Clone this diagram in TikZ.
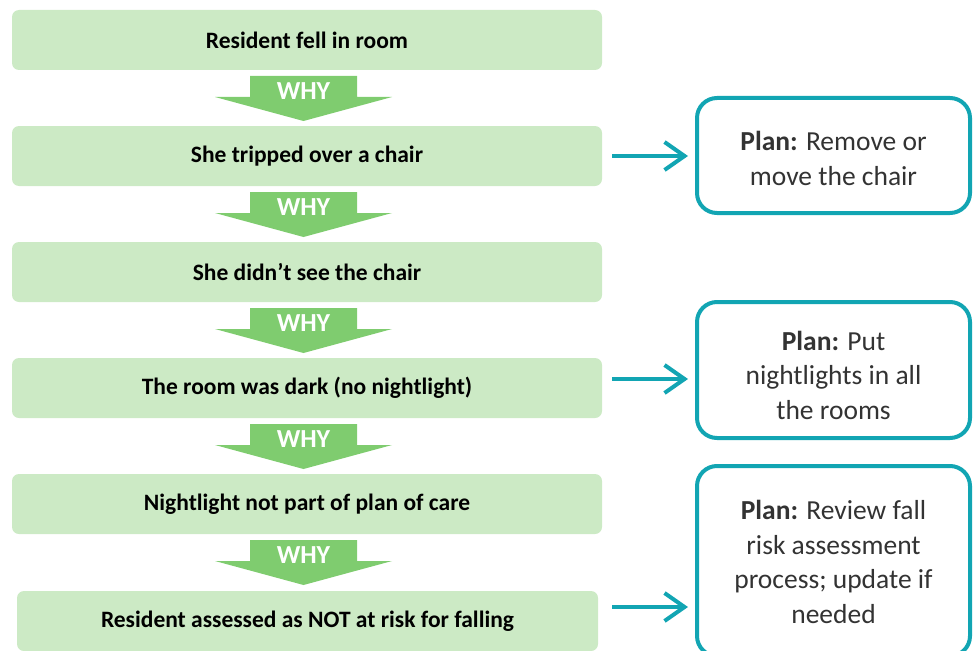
\documentclass[tikz,border=0pt]{standalone}
\usepackage{fontspec}
\setmainfont{Carlito}
\usetikzlibrary{arrows.meta}
\definecolor{boxgreen}{HTML}{CCEAC5}
\definecolor{whygreen}{HTML}{7FCC6F}
\definecolor{planteal}{HTML}{12A5B3}
\definecolor{plantext}{HTML}{333333}
\begin{document}
\begin{tikzpicture}[x=1pt,y=-1pt,
  causebox/.style={fill=boxgreen, rounded corners=7pt, minimum width=590pt, minimum height=60pt,
    font=\fontsize{23.5}{28}\selectfont\bfseries, inner sep=0pt},
  planbox/.style={draw=planteal, line width=4pt, rounded corners=20pt, fill=white,
    minimum width=273pt, minimum height=#1},
  plantextstyle/.style={align=center, font=\fontsize{27.5}{34.5}\selectfont, text=plantext, inner sep=0pt},
  whyarrow/.style={fill=whygreen},
  whytext/.style={text=white, font=\fontsize{26}{30}\selectfont\bfseries, inner sep=0pt},
  planarrow/.style={draw=planteal, line width=4pt, -{Straight Barb[length=20pt,width=28pt]}}]
\useasboundingbox (0,0) rectangle (976,650);
\clip (0,0) rectangle (976,650);

% cause boxes
\node[causebox] (c1) at (307,40) {Resident fell in room};
\node[causebox] (c2) at (307,156) {She tripped over a chair};
\node[causebox] (c3) at (307,272) {She didn’t see the chair};
\node[causebox] (c4) at (307,388) {The room was dark (no nightlight)};
\node[causebox] (c5) at (307,504) {Nightlight not part of plan of care};
\node[causebox, minimum width=581pt] (c6) at (307.5,621) {Resident assessed as NOT at risk for falling};

% WHY arrows
\foreach \i in {1,...,5}{
  \pgfmathsetmacro\b{70+116*(\i-1)}
  \fill[whyarrow] (250,{\b+6}) -- (357,{\b+6}) -- (357,{\b+27}) -- (392,{\b+27})
     -- (303.5,{\b+51}) -- (215,{\b+27}) -- (250,{\b+27}) -- cycle;
  \node[whytext] (w\i) at (303.5,{\b+21.5}) {WHY};
}

% plan boxes
\node[planbox=115pt] (p1) at (833.5,155.5) {};
\node[plantextstyle] (t1) at (833.5,158.5) {\textbf{Plan:} Remove or\\move the chair};
\node[planbox=136pt] (p2) at (833.5,370) {};
\node[plantextstyle] (t2) at (833.5,375) {\textbf{Plan:} Put\\nightlights in all\\the rooms};
\node[planbox=190pt] (p3) at (833.5,561) {};
\node[plantextstyle] (t3) at (833.5,562) {\textbf{Plan:} Review fall\\risk assessment\\process; update if\\needed};

% plan arrows
\coordinate (a1) at (c2.east);
\coordinate (a2) at (602,379);
\coordinate (a3) at (602,607);
\draw[planarrow, shorten <=10pt, shorten >=7pt] (a1) -- (a1 -| p1.west);
\draw[planarrow, shorten <=10pt, shorten >=7pt] (a2) -- (a2 -| p2.west);
\draw[planarrow, shorten <=10pt, shorten >=7pt] (a3) -- (a3 -| p3.west);
\end{tikzpicture}
\end{document}
